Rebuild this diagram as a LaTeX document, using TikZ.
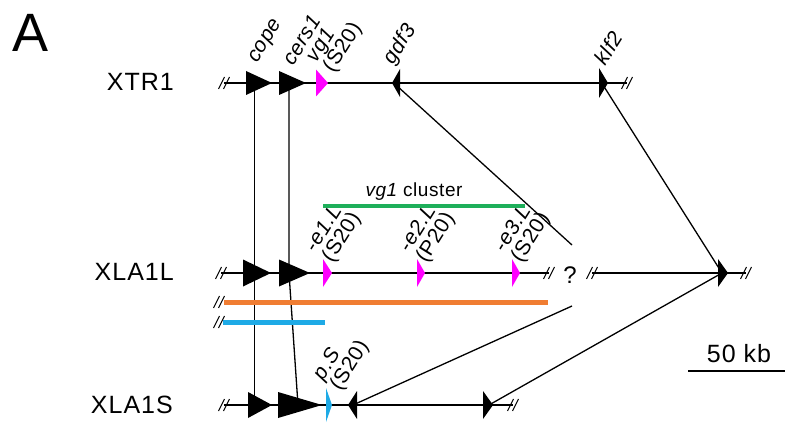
\documentclass[tikz,border=0pt]{standalone}
\usepackage{fontspec}
\setmainfont{Liberation Sans}
\definecolor{mag}{RGB}{255,0,255}
\definecolor{cyanb}{RGB}{30,170,230}
\definecolor{orng}{RGB}{240,125,50}
\definecolor{grn}{RGB}{30,175,90}
\newcommand{\gene}[5][black]{\fill[#1] (#2,#4-#5)--(#3,#4)--(#2,#4+#5)--cycle;}
\newcommand{\glab}[2]{\fontsize{21}{17.5}\selectfont\addfontfeature{LetterSpace=3}\begin{tabular}{@{}l@{}}#1\\[-1pt]#2\end{tabular}}
\newcommand{\gsing}[1]{\fontsize{21}{17.5}\selectfont\addfontfeature{LetterSpace=3}\itshape #1}
\tikzset{
 chrom/.style={line width=2pt},
 link/.style={line width=1.3pt},
 lbl/.style={rotate=58, anchor=west, inner sep=0pt},
 rowlbl/.style={font=\fontsize{25}{25}\selectfont\addfontfeature{LetterSpace=4}, anchor=east, inner sep=0pt},
 brk/.pic={\draw[line width=1.1pt] (-5.5,6)--(0.5,-6) (-0.5,6)--(5.5,-6);}
}
\begin{document}
\begin{tikzpicture}[x=1pt,y=-1pt]
\useasboundingbox (0,0) rectangle (785,433);
\node[font=\fontsize{54}{54}\selectfont, inner sep=0pt] (A) at (31,33) {A};
\node[rowlbl] (r1) at (174,82) {XTR1};
\node[rowlbl] (r2) at (174,272) {XLA1L};
\node[rowlbl] (r3) at (173,405) {XLA1S};

% link lines
\coordinate (copeA) at (254.5,83);
\coordinate (copeC) at (254.5,405);
\coordinate (cersA) at (289,83);
\coordinate (cersB) at (289,273);
\coordinate (cersC) at (298,405);
\coordinate (gdfA) at (396,85);
\coordinate (gdfB) at (572,245);
\coordinate (gdfB2) at (572,306);
\coordinate (gdfC) at (353,405);
\coordinate (klfA) at (603,85);
\coordinate (klfB) at (722,273);
\coordinate (klfC) at (489,405);
\draw[link] (copeA)--(copeC);
\draw[link] (cersA)--(cersB)--(cersC);
\draw[link] (gdfA)--(gdfB);
\draw[link] (gdfB2)--(gdfC);
\draw[link] (klfA)--(klfB)--(klfC);

% chromosomes
\coordinate (t1L) at (224,83); \coordinate (t1R) at (627,83);
\draw[chrom] (t1L)--(t1R);
\pic at (t1L) {brk}; \pic at (t1R) {brk};
\coordinate (l1L) at (221,273); \coordinate (l1R) at (549,273);
\coordinate (l2L) at (592,273); \coordinate (l2R) at (746,273);
\draw[chrom] (l1L)--(l1R);
\draw[chrom] (l2L)--(l2R);
\pic at (l1L) {brk}; \pic at (l1R) {brk}; \pic at (l2L) {brk}; \pic at (l2R) {brk};
\coordinate (s1L) at (224,405); \coordinate (s1R) at (513,405);
\draw[chrom] (s1L)--(s1R);
\pic at (s1L) {brk}; \pic at (s1R) {brk};

% coloured bars
\coordinate (oL) at (219,302); \coordinate (oR) at (548,302);
\draw[orng, line width=5pt] (oL)++(5,0)--(oR);
\pic at (oL) {brk};
\coordinate (bL) at (219,322); \coordinate (bR) at (325,322);
\draw[cyanb, line width=5pt] (bL)++(4,0)--(bR);
\pic at (bL) {brk};
\coordinate (gL) at (323,206); \coordinate (gR) at (525,206);
\draw[grn, line width=3.5pt] (gL)--(gR);
\node[font=\fontsize{19}{19}\selectfont\addfontfeature{LetterSpace=3}, inner sep=0pt] (clus) at (414,192) {{\itshape vg1} cluster};

% genes XTR1
\gene{246}{272}{83}{12}
\gene{279}{306}{83}{12}
\gene[mag]{316}{328}{83}{13.5}
\gene{400}{392}{83}{14}
\gene{599}{608}{83}{15}
% genes XLA1L
\gene{243}{271}{273}{13.5}
\gene{279}{310}{273}{13.5}
\gene[mag]{323}{332}{273}{14}
\gene[mag]{417}{425}{273}{14}
\gene[mag]{512}{520}{273}{14}
\gene{718}{728}{273}{14}
% genes XLA1S
\gene{248}{272}{405}{13}
\gene{278}{322}{405}{13}
\gene[cyanb]{326}{332}{405}{17}
\gene{357}{348}{405}{14}
\gene{483}{493}{405}{14}

% gene labels
\node[lbl] (lcope) at (254,62) {\gsing{cope}};
\node[lbl] (lcers) at (287,63) {\gsing{cers1}};
\node[lbl] (lvg) at (321,66) {\glab{\itshape vg1}{(S20)}};
\node[lbl] (lgdf) at (389,63) {\gsing{gdf3}};
\node[lbl] (lklf) at (599,63) {\gsing{klf2}};
\node[lbl] (le1) at (320,256) {\glab{\itshape -e1.L}{(S20)}};
\node[lbl] (le2) at (414,256) {\glab{\itshape -e2.L}{(P20)}};
\node[lbl] (le3) at (509,256) {\glab{\itshape -e3.L}{(S20)}};
\node[lbl] (lps) at (328,384) {\glab{\itshape p.S}{(S20)}};

\node[font=\fontsize{24}{24}\selectfont, inner sep=0pt] (q) at (570,275) {?};

% scale bar
\coordinate (sbL) at (688,371); \coordinate (sbR) at (785,371);
\draw[line width=1.5pt] (sbL)--(sbR);
\node[font=\fontsize{25}{25}\selectfont\addfontfeature{LetterSpace=4}, inner sep=0pt] (sb) at (739,354) {50 kb};
\end{tikzpicture}
\end{document}
